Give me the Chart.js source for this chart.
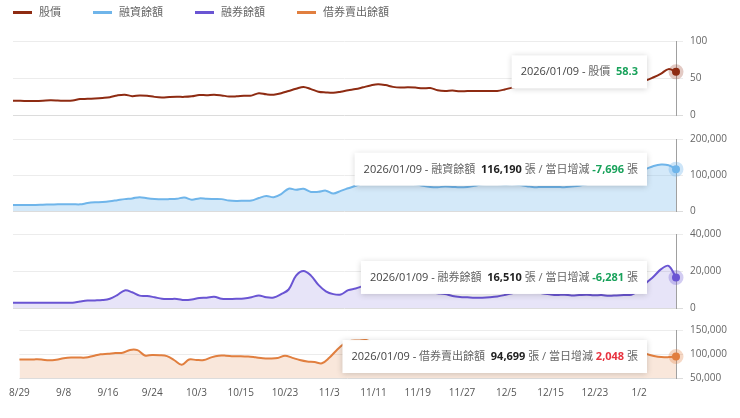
<!DOCTYPE html>
<html>
<head>
<meta charset="utf-8">
<script src="https://cdn.jsdelivr.net/npm/chart.js@4.4.1/dist/chart.umd.min.js"></script>
<style>
  body { margin: 0; background: #fff; }
  #wrap { position: relative; width: 740px; height: 418px; }
  .panel { position: absolute; left: 0; width: 740px; }
</style>
</head>
<body>
<div id="wrap">
  <div class="panel" style="top:0;height:128px"><canvas id="pricePanel"></canvas></div>
  <div class="panel" style="top:126px;height:98px"><canvas id="marginPanel"></canvas></div>
  <div class="panel" style="top:221px;height:100px"><canvas id="shortPanel"></canvas></div>
  <div class="panel" style="top:317px;height:101px"><canvas id="lendPanel"></canvas></div>
</div>
<script>
// trading days 2025/08/29 - 2026/01/09
const dates = [
  '2025/08/29',
  '2025/09/01','2025/09/02','2025/09/03','2025/09/04','2025/09/05','2025/09/08','2025/09/09','2025/09/10','2025/09/11','2025/09/12',
  '2025/09/15','2025/09/16','2025/09/17','2025/09/18','2025/09/19','2025/09/22','2025/09/23','2025/09/24','2025/09/25','2025/09/26','2025/09/30',
  '2025/10/01','2025/10/02','2025/10/03','2025/10/07','2025/10/08','2025/10/09','2025/10/13','2025/10/14','2025/10/15','2025/10/16',
  '2025/10/17','2025/10/20','2025/10/21','2025/10/22','2025/10/23','2025/10/27','2025/10/28','2025/10/29','2025/10/30','2025/10/31',
  '2025/11/03','2025/11/04','2025/11/05','2025/11/06','2025/11/07','2025/11/10','2025/11/11','2025/11/12','2025/11/13','2025/11/14',
  '2025/11/17','2025/11/18','2025/11/19','2025/11/20','2025/11/21','2025/11/24','2025/11/25','2025/11/26','2025/11/27','2025/11/28',
  '2025/12/01','2025/12/02','2025/12/03','2025/12/04','2025/12/05','2025/12/08','2025/12/09','2025/12/10','2025/12/11','2025/12/12',
  '2025/12/15','2025/12/16','2025/12/17','2025/12/18','2025/12/19','2025/12/22','2025/12/23','2025/12/24','2025/12/26','2025/12/29',
  '2025/12/30','2025/12/31',
  '2026/01/02','2026/01/05','2026/01/06','2026/01/07','2026/01/08','2026/01/09'
];

const seriesNames = ['股價', '融資餘額', '融券餘額', '借券賣出餘額'];

const price = [
  19.2,19.1,19.0,19.0,19.3,19.8,19.6,19.2,19.5,21.5,
  21.8,22.3,23.0,24.0,26.5,27.5,25.5,26.5,26.0,24.5,
  23.8,24.3,24.6,24.5,25.3,27.0,26.8,27.5,26.5,25.0,
  25.2,26.0,26.2,29.5,28.0,27.5,29.5,32.5,35.5,38.0,
  35.0,31.5,30.5,30.0,31.5,33.5,35.0,37.5,40.0,41.7,
  40.5,38.0,37.0,37.5,37.0,36.0,36.5,33.5,32.5,33.0,
  32.0,32.5,32.5,32.3,32.3,32.5,34.5,37.0,38.5,39.5,
  40.0,41.0,40.5,41.5,42.5,43.0,42.0,43.5,44.0,45.0,
  44.5,45.5,46.0,46.5,46.0,47.0,51.0,56.0,62.0,58.3
];

const marginBal = [
  17000,17000,17000,17000,17500,18000,18500,19000,19000,18500,
  22000,24000,25000,27000,30000,33000,35000,38500,35500,33500,
  32500,33000,34000,37500,31500,35000,34000,33500,33000,29000,
  28000,28500,29000,36000,41500,38500,47000,62000,59000,61500,
  53000,53500,56500,48500,56000,63000,70000,78000,83000,85000,
  82000,80000,78000,76000,74000,70000,67000,66000,68000,67000,
  66000,67000,70000,74000,76000,75000,73000,74000,72000,69000,
  66000,67000,66500,67000,66000,68000,70000,74000,78000,80000,
  84000,88000,95000,103000,110000,117000,125000,129000,127000,116190
];

const shortBal = [
  2900,2900,2900,2900,2900,2900,2900,2900,2900,3500,
  4000,4100,4300,5000,7000,9500,8500,6700,6500,5800,
  5000,4900,4900,4300,4600,5400,5600,6100,5000,4900,
  5000,5200,5800,6800,5800,5700,7500,10000,17500,20000,
  17500,12500,9000,7500,7300,9700,10500,11900,13000,14000,
  13000,11500,10500,10000,9500,9000,8500,8000,7500,6500,
  6000,5800,5600,5600,5800,6200,7000,8000,9000,9000,
  8500,8000,7400,7000,7200,6800,7000,7200,6900,7000,
  6600,6800,7000,7200,9500,13500,17000,21000,22800,16510
];

const lendBal = [
  88600,88600,88800,88600,86800,88000,91000,92600,92600,92600,
  96000,99500,100500,102000,102600,108500,108000,97000,98000,97500,
  95500,87000,77500,88500,87500,87500,93000,96500,96500,95500,
  95500,94800,93000,91000,90600,91500,96500,92000,87500,84500,
  83500,80600,92000,108000,121000,127500,128000,129000,122000,115000,
  110000,106000,104000,102000,103000,101000,99000,98000,100000,101000,
  99000,97000,96000,98000,100000,102000,101000,99000,98000,97000,
  99000,101000,103000,104000,102000,100000,99000,98000,100000,102000,
  104000,106000,108000,107000,104000,100000,96000,93500,93500,94699
];

// 當日增減 shown in the tooltips
const dailyChange = [null, -7696, -6281, 2048];

const yTicks = [
  { min: 0, max: 100, step: 50 },
  { min: 0, max: 200000, step: 100000 },
  { min: 0, max: 40000, step: 20000 },
  { min: 50000, max: 150000, step: 50000 }
];

const FONT = "'Open Sans', 'Noto Sans CJK TC', sans-serif";
const lineColors = ['#8e2b12', '#6fb5ea', '#6a55d3', '#e17f3f'];
const haloColors = ['rgba(142,43,18,0.25)', 'rgba(111,181,234,0.35)', 'rgba(106,85,211,0.3)', 'rgba(225,127,63,0.3)'];
const fillColors = [null, 'rgba(111,181,234,0.3)', 'rgba(106,85,211,0.16)', 'rgba(225,127,63,0.19)'];
const GREEN = '#19a25b', RED = '#e8333f';

Chart.defaults.font.family = FONT;

const fmt = v => v.toLocaleString('en-US');
const shortDate = s => { const p = s.split('/'); return (+p[1]) + '/' + (+p[2]); };

// legend row across the top
const legendRow = {
  id: 'legendRow',
  afterDraw(chart) {
    const ctx = chart.ctx;
    ctx.save();
    ctx.font = '11px ' + FONT;
    ctx.textBaseline = 'middle';
    let x = 13;
    seriesNames.forEach((name, i) => {
      ctx.fillStyle = lineColors[i];
      ctx.fillRect(x, 11, 19, 3);
      ctx.fillStyle = '#666';
      ctx.fillText(name, x + 26, 12.5);
      x += 26 + ctx.measureText(name).width + 32;
    });
    ctx.restore();
  }
};

// hover box fixed on the last point
const lastTip = {
  id: 'lastTip',
  afterDraw(chart, args, opts) {
    if (!opts.parts) return;
    const meta = chart.getDatasetMeta(0);
    const pt = meta.data[meta.data.length - 1];
    const ctx = chart.ctx;
    ctx.save();
    let w = 0;
    opts.parts.forEach(p => {
      ctx.font = (p.bold ? 'bold ' : '') + '11px ' + FONT;
      p.w = ctx.measureText(p.t).width;
      w += p.w;
    });
    const h = 33, padX = 9;
    const right = pt.x - 29;
    const left = right - w - padX * 2;
    const top = pt.y - h / 2;
    ctx.shadowColor = 'rgba(0,0,0,0.18)';
    ctx.shadowBlur = 6;
    ctx.shadowOffsetY = 1;
    ctx.fillStyle = '#fff';
    ctx.fillRect(left, top, w + padX * 2, h);
    ctx.shadowColor = 'transparent';
    ctx.textBaseline = 'middle';
    let x = left + padX;
    opts.parts.forEach(p => {
      ctx.font = (p.bold ? 'bold ' : '') + '11px ' + FONT;
      ctx.fillStyle = p.c;
      ctx.fillText(p.t, x, pt.y + 0.5);
      x += p.w;
    });
    ctx.restore();
  }
};

function tipParts(i, values) {
  const last = values.length - 1;
  const head = [{ t: dates[last] + ' - ', c: '#444' }, { t: seriesNames[i] + '  ', c: '#666' }];
  if (dailyChange[i] === null) {
    return head.concat([{ t: String(values[last]), c: GREEN, bold: true }]);
  }
  const ch = dailyChange[i];
  return head.concat([
    { t: fmt(values[last]), c: '#222', bold: true },
    { t: ' 張 / 當日增減 ', c: '#666' },
    { t: fmt(ch), c: ch < 0 ? GREEN : RED, bold: true },
    { t: ' 張', c: '#666' }
  ]);
}

function buildPanel(id, i, values, opts) {
  const last = values.length - 1;
  const t = yTicks[i];
  return new Chart(document.getElementById(id), {
    type: 'line',
    data: {
      labels: dates,
      datasets: [{
        label: seriesNames[i],
        data: values,
        borderColor: lineColors[i],
        borderWidth: 2,
        backgroundColor: fillColors[i] || 'transparent',
        fill: fillColors[i] ? 'start' : false,
        tension: 0.35,
        clip: false,
        pointRadius: c => c.dataIndex === last ? 4 : 0,
        pointBackgroundColor: lineColors[i],
        pointBorderColor: haloColors[i],
        pointBorderWidth: 7
      }]
    },
    options: {
      responsive: true,
      maintainAspectRatio: false,
      animation: false,
      events: [],
      layout: { padding: opts.padding },
      plugins: {
        legend: { display: false },
        tooltip: { enabled: false },
        lastTip: { parts: tipParts(i, values) }
      },
      scales: {
        x: {
          display: !!opts.showX,
          grid: { display: false, drawTicks: false },
          border: { display: false },
          ticks: {
            autoSkip: false,
            maxRotation: 0,
            padding: 9,
            color: '#555',
            font: { size: 10 },
            callback: (v, idx) => idx % 6 === 0 ? shortDate(dates[idx]) : ''
          }
        },
        y: {
          position: 'right',
          min: t.min,
          max: t.max,
          ticks: { stepSize: t.step, padding: 7, color: '#666', font: { size: 10 }, callback: v => fmt(v) },
          grid: { color: c => c.index === 0 ? '#dcdcdc' : '#ececec', tickLength: 7 },
          border: { display: true, color: '#a0a0a0' },
          afterFit: s => { s.width = 64; }
        }
      }
    },
    plugins: opts.extra || [lastTip]
  });
}

buildPanel('pricePanel', 0, price, { padding: { top: 41, bottom: 5, left: 13, right: 0 }, extra: [legendRow, lastTip] });
buildPanel('marginPanel', 1, marginBal, { padding: { top: 9, bottom: 5, left: 13, right: 0 } });
buildPanel('shortPanel', 2, shortBal, { padding: { top: 8, bottom: 5, left: 13, right: 0 } });
buildPanel('lendPanel', 3, lendBal, { padding: { top: 10, bottom: 10, left: 13, right: 0 }, showX: true });
</script>
</body>
</html>
